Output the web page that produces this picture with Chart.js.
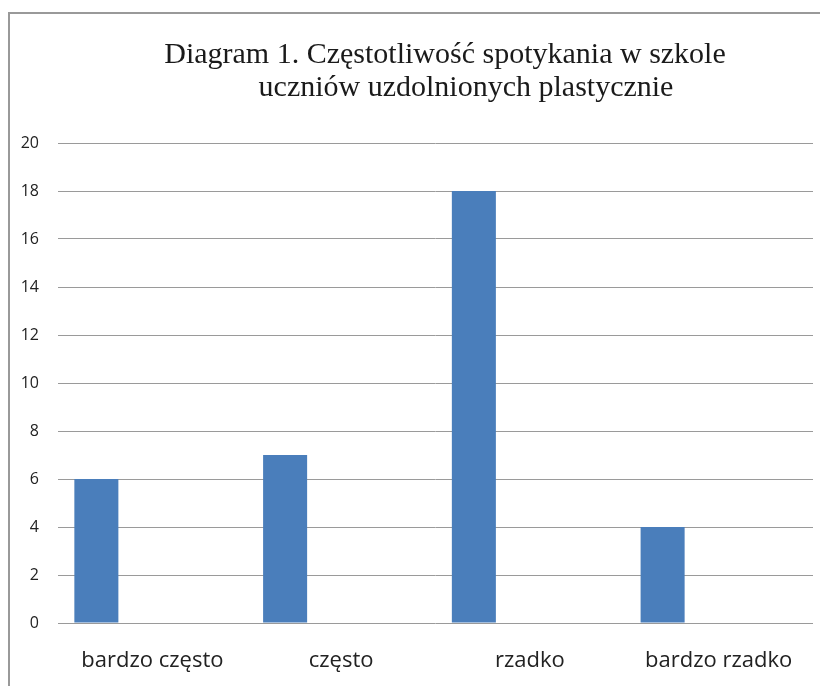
<!DOCTYPE html>
<html><head><meta charset="utf-8">
<script src="https://cdn.jsdelivr.net/npm/chart.js@4/dist/chart.umd.min.js"></script>
<style>
html,body{margin:0;padding:0;background:#fff;}
#wrap{position:relative;width:820px;height:686px;overflow:hidden;}
#frame{position:absolute;left:8px;top:12px;width:830px;height:700px;border-left:2px solid #999;border-top:2px solid #999;}
canvas{position:absolute;left:0;top:0;}
</style></head><body>
<div id="wrap"><div id="frame"></div><canvas id="c" width="820" height="686"></canvas></div>
<script>
const categories = ['bardzo często', 'często', 'rzadko', 'bardzo rzadko'];
const values = [6, 7, 18, 4];
const emptySeries = [null, null, null, null];
const titleLines = ['Diagram 1. Częstotliwość spotykania w szkole', 'uczniów uzdolnionych plastycznie'];
const yMin = 0, yMax = 20, yStep = 2;

const sansFont = '"Open Sans", "Liberation Sans", sans-serif';

const titlePlugin = {
  id: 'serifTitle',
  afterDraw(chart) {
    const ctx = chart.ctx;
    ctx.save();
    ctx.font = '30px "Liberation Serif", "Times New Roman", serif';
    ctx.fillStyle = '#1a1a1a';
    ctx.textAlign = 'center';
    ctx.textBaseline = 'alphabetic';
    ctx.fillText(titleLines[0], 445, 63);
    ctx.fillText(titleLines[1], 466, 96);
    ctx.restore();
  }
};

new Chart(document.getElementById('c'), {
  type: 'bar',
  data: {
    labels: categories,
    datasets: [
      { label: 'Seria 1', data: values, backgroundColor: '#4a7ebb', borderWidth: 0,
        categoryPercentage: 1.187, barPercentage: 0.393 },
      { label: 'Seria 2', data: emptySeries, backgroundColor: '#c0504d', borderWidth: 0,
        categoryPercentage: 1.187, barPercentage: 0.393 }
    ]
  },
  options: {
    responsive: false,
    animation: false,
    layout: { padding: { left: 0, top: 143, right: 7, bottom: 0 } },
    plugins: { legend: { display: false }, tooltip: { enabled: false }, title: { display: false } },
    scales: {
      x: {
        grid: { display: false, drawTicks: false },
        border: { display: false },
        ticks: { color: '#222', font: { family: sansFont, size: 22 }, padding: 25, maxRotation: 0, autoSkip: false },
        afterFit: s => { s.height = 63; }
      },
      y: {
        min: yMin, max: yMax,
        grid: { color: '#9a9a9a', lineWidth: 1, drawTicks: false },
        border: { display: false },
        ticks: { stepSize: yStep, color: '#222', font: { family: sansFont, size: 16 }, padding: 19 },
        afterFit: s => { s.width = 58; }
      }
    }
  },
  plugins: [titlePlugin]
});
</script>
</body></html>
